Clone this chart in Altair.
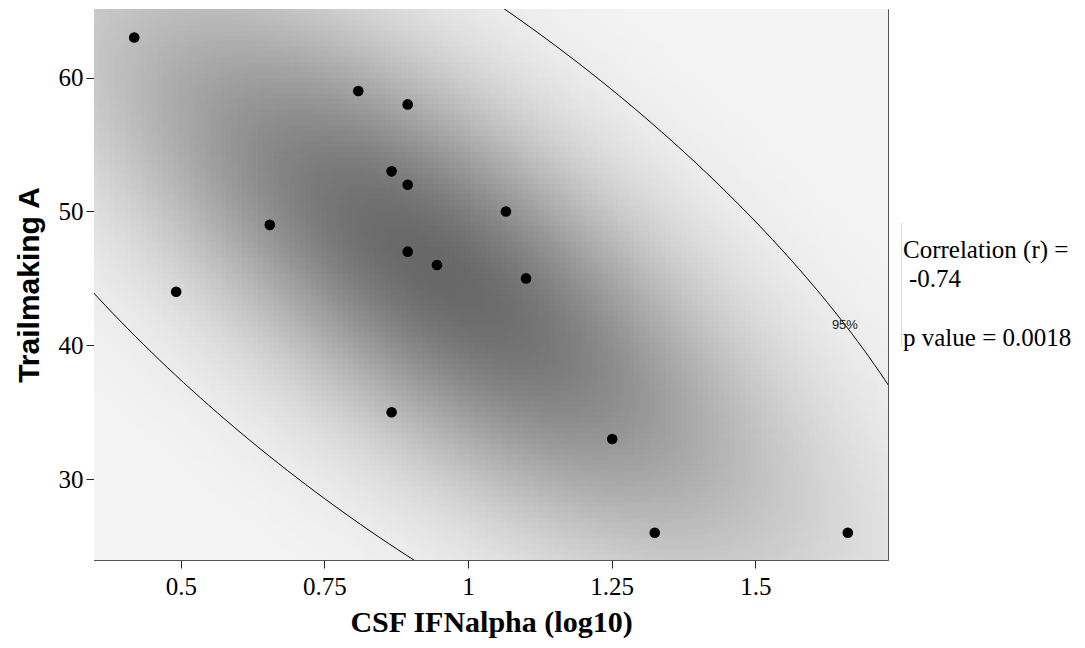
import numpy as np
import pandas as pd
import altair as alt

# ---- data ----
ifn_log10 = [0.419, 0.492, 0.655, 0.809, 0.895, 0.867, 0.895, 1.066,
             0.895, 0.946, 1.101, 0.867, 1.251, 1.325, 1.661]
trailmaking_a = [63, 44, 49, 59, 58, 53, 52, 50, 47, 46, 45, 35, 33, 26, 26]

x_domain = [0.349, 1.731]
y_domain = [23.96, 65.13]
x_ticks = [0.5, 0.75, 1, 1.25, 1.5]
y_ticks = [30, 40, 50, 60]

label_95 = ["95%"]
label_95_x = [1.656]
label_95_y = [41.5]

stats_lines = ["Correlation (r) =", "-0.74", "p value = 0.0018"]

# ---- derived: bivariate normal fit & 95% prediction ellipse ----
X = np.array(ifn_log10)
Y = np.array(trailmaking_a, dtype=float)
n = len(X)
mean = np.array([X.mean(), Y.mean()])
cov = np.cov(np.vstack([X, Y]))
inv = np.linalg.inv(cov)
f_crit = 3.806  # F(0.95; 2, n-2)
T2 = 2 * (n - 1) * (n + 1) / (n * (n - 2)) * f_crit

nx, ny = 150, 104
xe = np.linspace(x_domain[0], x_domain[1], nx + 1)
ye = np.linspace(y_domain[0], y_domain[1], ny + 1)
dx = xe[1] - xe[0]
dy = ye[1] - ye[0]
rows = []
for j in range(ny):
    for i in range(nx):
        cx = (xe[i] + xe[i + 1]) / 2
        cy = (ye[j] + ye[j + 1]) / 2
        d = np.array([cx - mean[0], cy - mean[1]])
        d2 = float(d @ inv @ d)
        rows.append({"x0": xe[i], "x1": xe[i] + 1.7 * dx,
                     "y0": ye[j], "y1": ye[j] + 1.7 * dy,
                     "shade": float(np.exp(-d2 / 3.0))})
grid = pd.DataFrame(rows)

L = np.linalg.cholesky(cov)
t = np.linspace(0, 2 * np.pi, 361)
circ = np.vstack([np.cos(t), np.sin(t)])
ell = mean[:, None] + np.sqrt(T2) * (L @ circ)
ellipse = pd.DataFrame({"t": t, "ex": ell[0], "ey": ell[1]})

points = pd.DataFrame({"x": ifn_log10, "y": trailmaking_a})

xs = alt.Scale(domain=x_domain, nice=False, zero=False)
ys = alt.Scale(domain=y_domain, nice=False, zero=False)

x_axis = alt.Axis(values=x_ticks, format="~g", title="CSF IFNalpha (log10)")
y_axis = alt.Axis(values=y_ticks, format="~g", title="Trailmaking A")

bg = alt.Chart(grid).mark_rect(strokeWidth=0, clip=True).encode(
    x=alt.X("x0:Q", scale=xs, axis=x_axis),
    x2="x1:Q",
    y=alt.Y("y0:Q", scale=ys, axis=y_axis),
    y2="y1:Q",
    color=alt.Color("shade:Q",
                    scale=alt.Scale(domain=[0, 1], range=["#f4f4f4", "#686868"]),
                    legend=None),
)

line = alt.Chart(ellipse).mark_line(clip=True, color="black", strokeWidth=1).encode(
    x=alt.X("ex:Q", scale=xs),
    y=alt.Y("ey:Q", scale=ys),
    order="t:Q",
)

pts = alt.Chart(points).mark_circle(size=113, color="black", opacity=1).encode(
    x=alt.X("x:Q", scale=xs),
    y=alt.Y("y:Q", scale=ys),
)

lbl = alt.Chart(pd.DataFrame({"x": label_95_x, "y": label_95_y, "t": label_95})).mark_text(
    font="Liberation Sans", fontSize=13, color="#222222", align="center", baseline="middle"
).encode(x=alt.X("x:Q", scale=xs), y=alt.Y("y:Q", scale=ys), text="t:N")

ann_df = pd.DataFrame({"t": stats_lines, "px": [809, 815, 809], "py": [249.3, 278.3, 336.5]})
ann = alt.Chart(ann_df).mark_text(
    font="Liberation Serif", fontSize=25, color="black", align="left", baseline="alphabetic"
).encode(x=alt.X("px:Q", scale=None), y=alt.Y("py:Q", scale=None), text="t:N")

sep = alt.Chart(pd.DataFrame({"a": [0]})).mark_rule(color="#d8d8d8", strokeWidth=1).encode(
    x=alt.value(807.7), y=alt.value(214), y2=alt.value(338)
)

chart = alt.layer(bg, line, pts, lbl, ann, sep).properties(
    width=794, height=551,
    autosize="none",
    padding={"left": 86, "top": 1, "right": 186, "bottom": 80},
).configure_view(
    stroke="#555555", strokeWidth=1
).configure_axis(
    grid=False,
    domainColor="#555555",
    tickColor="#222222",
    tickSize=8,
    labelFont="Liberation Serif",
    labelFontSize=25,
    labelColor="black",
    titleColor="black",
    titleFontSize=30,
    titleFontWeight="bold",
).configure_axisX(
    labelPadding=6, titlePadding=8, titleFont="Liberation Serif"
).configure_axisY(
    labelPadding=3, titlePadding=14, titleFont="Liberation Sans"
)

chart.save("out.html", embed_options={"renderer": "svg", "actions": False})
